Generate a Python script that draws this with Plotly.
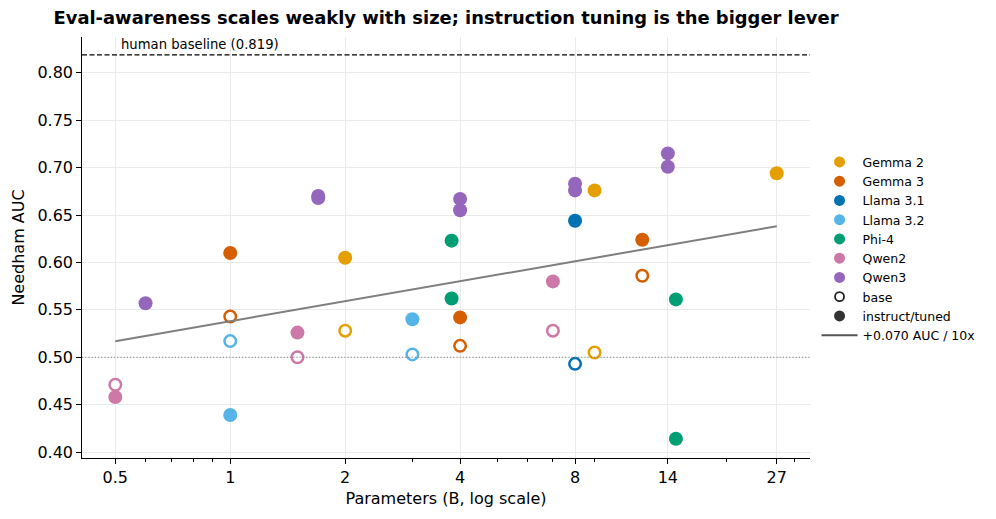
import math
import plotly.graph_objects as go

# ---------------- data ----------------
families = ["Gemma 2", "Gemma 3", "Llama 3.1", "Llama 3.2", "Phi-4", "Qwen2", "Qwen3"]
family_colors = ["#E69F00", "#D55E00", "#0072B2", "#56B4E9", "#009E73", "#CC79A7", "#9467BD"]

# instruct / tuned checkpoints: (params in B, Needham AUC)
inst_params = {
    "Gemma 2": [2, 9, 27],
    "Gemma 3": [1, 4, 12],
    "Llama 3.1": [8],
    "Llama 3.2": [1, 3],
    "Phi-4": [3.8, 3.8, 14.7, 14.7],
    "Qwen2": [0.5, 1.5, 7],
    "Qwen3": [0.6, 1.7, 1.7, 4, 4, 8, 8, 14, 14],
}
inst_auc = {
    "Gemma 2": [0.605, 0.676, 0.694],
    "Gemma 3": [0.610, 0.542, 0.624],
    "Llama 3.1": [0.644],
    "Llama 3.2": [0.439, 0.540],
    "Phi-4": [0.623, 0.562, 0.561, 0.414],
    "Qwen2": [0.458, 0.526, 0.580],
    "Qwen3": [0.557, 0.670, 0.668, 0.667, 0.655, 0.683, 0.676, 0.715, 0.701],
}
# base checkpoints
base_params = {
    "Gemma 2": [2, 9],
    "Gemma 3": [1, 4, 12],
    "Llama 3.1": [8],
    "Llama 3.2": [1, 3],
    "Phi-4": [],
    "Qwen2": [0.5, 1.5, 7],
    "Qwen3": [],
}
base_auc = {
    "Gemma 2": [0.528, 0.505],
    "Gemma 3": [0.543, 0.512, 0.586],
    "Llama 3.1": [0.493],
    "Llama 3.2": [0.517, 0.503],
    "Phi-4": [],
    "Qwen2": [0.471, 0.500, 0.528],
    "Qwen3": [],
}

x_tick_vals = [0.5, 1, 2, 4, 8, 14, 27]
x_tick_text = ["0.5", "1", "2", "4", "8", "14", "27"]
x_minor_vals = [0.6, 0.7, 0.8, 0.9, 3, 5, 6, 7, 9, 20, 30]
y_tick_vals = [0.40, 0.45, 0.50, 0.55, 0.60, 0.65, 0.70, 0.75, 0.80]

human_baseline = 0.819
chance_level = 0.5
trend_slope = 0.070      # AUC per decade of parameters
trend_intercept = 0.538  # AUC at 1B

FONT = "DejaVu Sans"

fig = go.Figure()

# data points
for fam, col in zip(families, family_colors):
    if base_params[fam]:
        fig.add_trace(go.Scatter(
            x=base_params[fam], y=base_auc[fam], mode="markers",
            marker=dict(size=11.5, color="white", line=dict(color=col, width=2.5)),
            showlegend=False, hoverinfo="skip"))
    fig.add_trace(go.Scatter(
        x=inst_params[fam], y=inst_auc[fam], mode="markers",
        marker=dict(size=14, color=col, line=dict(width=0)),
        showlegend=False, hoverinfo="skip"))

# trend line
all_params = [p for f in families for p in inst_params[f] + base_params[f]]
tx = [min(all_params), max(all_params)]
ty = [trend_intercept + trend_slope * math.log10(v) for v in tx]
fig.add_trace(go.Scatter(x=tx, y=ty, mode="lines",
                         line=dict(color="#7f7f7f", width=2),
                         showlegend=False, hoverinfo="skip"))

# legend entries
for fam, col in zip(families, family_colors):
    fig.add_trace(go.Scatter(x=[None], y=[None], mode="markers", name=fam,
                             marker=dict(size=11, color=col)))
fig.add_trace(go.Scatter(x=[None], y=[None], mode="markers", name="base",
                         marker=dict(size=9, color="white", line=dict(color="#222222", width=1.8))))
fig.add_trace(go.Scatter(x=[None], y=[None], mode="markers", name="instruct/tuned",
                         marker=dict(size=11, color="#333333")))
fig.add_trace(go.Scatter(x=[None], y=[None], mode="lines",
                         name=f"+{trend_slope:.3f} AUC / 10x",
                         line=dict(color="#555555", width=2)))

# reference lines
fig.add_shape(type="line", xref="paper", x0=0, x1=1, yref="y",
              y0=human_baseline, y1=human_baseline,
              line=dict(color="black", width=1.3, dash="5px,2.5px"))
fig.add_shape(type="line", xref="paper", x0=0, x1=1, yref="y",
              y0=chance_level, y1=chance_level,
              line=dict(color="#808080", width=1.2, dash="1.2px,2px"))
fig.add_annotation(x=math.log10(0.51), y=human_baseline, xref="x", yref="y",
                   text=f"human baseline ({human_baseline:.3f})",
                   showarrow=False, xanchor="left", yanchor="bottom", yshift=1,
                   font=dict(family=FONT, size=13.2, color="black"))

fig.update_layout(
    width=996, height=519,
    margin=dict(l=82, r=186, t=37, b=61),
    paper_bgcolor="white", plot_bgcolor="white",
    font=dict(family=FONT, color="black", size=16),
    title=dict(text="<b>Eval-awareness scales weakly with size; instruction tuning is the bigger lever</b>",
               x=0.5, xref="paper", xanchor="center",
               y=1 - 18 / 519, yref="container", yanchor="middle",
               font=dict(family=FONT, size=17.9, color="black")),
    legend=dict(x=1.009, xanchor="left", y=0.738, yanchor="top",
                itemwidth=36,
                font=dict(family=FONT, size=12.5, color="black"),
                bgcolor="rgba(0,0,0,0)", borderwidth=0, traceorder="normal"),
    showlegend=True,
)

fig.update_xaxes(
    type="log",
    range=[math.log10(0.409), math.log10(33.0)],
    tickmode="array", tickvals=x_tick_vals, ticktext=x_tick_text,
    ticks="outside", ticklen=4.7, tickwidth=1, tickcolor="black",
    showline=True, linecolor="black", linewidth=1.2, mirror=False,
    showgrid=True, gridcolor="#ebebeb", gridwidth=1, zeroline=False,
    tickfont=dict(family=FONT, size=16, color="black"),
    title=dict(text="Parameters (B, log scale)", font=dict(family=FONT, size=16, color="black"), standoff=6),
    minor=dict(tickmode="array", tickvals=x_minor_vals, ticks="outside",
               ticklen=2.7, tickwidth=0.8, tickcolor="black", showgrid=False),
)
fig.update_yaxes(
    range=[0.3937, 0.8378],
    tickmode="array", tickvals=y_tick_vals, ticktext=[f"{v:.2f}" for v in y_tick_vals],
    ticks="outside", ticklen=4.7, tickwidth=1, tickcolor="black",
    showline=True, linecolor="black", linewidth=1.2, mirror=False,
    showgrid=True, gridcolor="#ebebeb", gridwidth=1, zeroline=False,
    tickfont=dict(family=FONT, size=16, color="black"),
    title=dict(text="Needham AUC", font=dict(family=FONT, size=16, color="black"), standoff=8),
)

fig.write_html("out.html")
